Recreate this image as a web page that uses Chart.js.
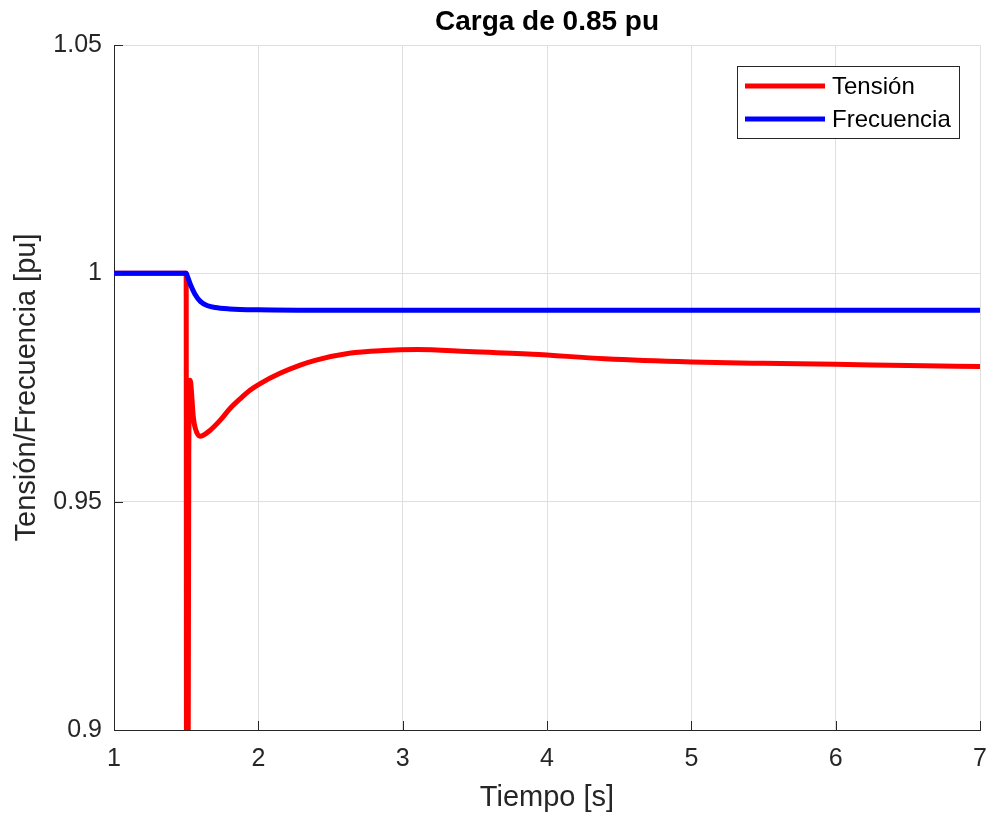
<!DOCTYPE html>
<html lang="es">
<head>
<meta charset="utf-8">
<title>Carga de 0.85 pu</title>
<script src="https://cdn.jsdelivr.net/npm/chart.js@4.4.1/dist/chart.umd.min.js"></script>
<style>
  html, body { margin: 0; padding: 0; background: #ffffff; }
  #contenedor { width: 989px; height: 816px; }
</style>
</head>
<body>
<div id="contenedor"><canvas id="grafico"></canvas></div>
<script>
// Tiempos y valores de la tensión (pu)
const tiempoTension = [1, 1.5, 1.503, 1.511, 1.518, 1.527, 1.55, 1.561, 1.596, 1.665, 1.735, 1.804, 1.873, 1.942,
  2.01, 2.15, 2.29, 2.4, 2.63, 2.87, 3.1, 3.45, 3.9, 4.4, 5.0, 5.5, 6.0, 6.5, 7.0];
const tension = [1, 1, 0.85, 0.85, 0.96, 0.9766, 0.9684, 0.9663, 0.9643, 0.9656, 0.9678, 0.9704, 0.9725, 0.9744,
  0.9758, 0.9781, 0.9799, 0.981, 0.9825, 0.9831, 0.9833, 0.9829, 0.9823, 0.9813, 0.9806, 0.9803, 0.9801, 0.9798, 0.9796];

// Tiempos y valores de la frecuencia (pu)
const tiempoFrecuencia = [1, 1.5, 1.51, 1.53, 1.56, 1.6, 1.65, 1.7, 1.8, 2.0, 2.5, 7.0];
const frecuencia = [1, 1, 0.9992, 0.9975, 0.9955, 0.9938, 0.9929, 0.9925, 0.9922, 0.9920, 0.9919, 0.9919];

// Marcas de los ejes
const ticksX = [1, 2, 3, 4, 5, 6, 7];
const ticksY = [0.9, 0.95, 1, 1.05];

const titulo = 'Carga de 0.85 pu';
const FUENTE = '"Liberation Sans", Arial, Helvetica, sans-serif';
const COLOR_EJE = '#262626';

const puntos = (xs, ys) => xs.map((x, i) => ({ x: x, y: ys[i] }));

// Título, marcas hacia adentro y leyenda con recuadro (estilo MATLAB)
const decoraciones = {
  id: 'decoraciones',
  afterDraw(chart) {
    const { ctx, chartArea, scales } = chart;
    ctx.save();

    // marcas de los ejes hacia adentro
    ctx.strokeStyle = COLOR_EJE;
    ctx.lineWidth = 1;
    ctx.beginPath();
    ticksX.forEach(v => {
      const px = Math.round(scales.x.getPixelForValue(v)) + 0.5;
      ctx.moveTo(px, chartArea.bottom);
      ctx.lineTo(px, chartArea.bottom - 9);
    });
    ticksY.forEach(v => {
      const py = Math.round(scales.y.getPixelForValue(v)) + 0.5;
      ctx.moveTo(chartArea.left, py);
      ctx.lineTo(chartArea.left + 9, py);
    });
    ctx.stroke();

    // título centrado sobre el área de trazado
    ctx.fillStyle = '#000000';
    ctx.font = 'bold 28px ' + FUENTE;
    ctx.textAlign = 'center';
    ctx.textBaseline = 'middle';
    ctx.fillText(titulo, (chartArea.left + chartArea.right) / 2, 22);

    // leyenda
    const lx = 737.5, ly = 66.5, lw = 222, lh = 72;
    ctx.fillStyle = '#ffffff';
    ctx.fillRect(lx, ly, lw, lh);
    ctx.strokeStyle = COLOR_EJE;
    ctx.lineWidth = 1;
    ctx.strokeRect(lx, ly, lw, lh);
    ctx.font = '24px ' + FUENTE;
    ctx.textAlign = 'left';
    chart.data.datasets.forEach((ds, i) => {
      const y = 86 + i * 33;
      ctx.strokeStyle = ds.borderColor;
      ctx.lineWidth = 5;
      ctx.beginPath();
      ctx.moveTo(745, y);
      ctx.lineTo(825, y);
      ctx.stroke();
      ctx.fillStyle = '#000000';
      ctx.fillText(ds.label, 832, y + 1);
    });
    ctx.restore();
  }
};

new Chart(document.getElementById('grafico'), {
  type: 'line',
  data: {
    datasets: [
      {
        label: 'Tensión',
        data: puntos(tiempoTension, tension),
        borderColor: '#ff0000',
        borderWidth: 5,
        pointRadius: 0,
        cubicInterpolationMode: 'monotone',
        clip: { left: 5, top: 5, right: 5, bottom: 0 },
        order: 1
      },
      {
        label: 'Frecuencia',
        data: puntos(tiempoFrecuencia, frecuencia),
        borderColor: '#0000ff',
        borderWidth: 5,
        pointRadius: 0,
        cubicInterpolationMode: 'monotone',
        order: 0
      }
    ]
  },
  options: {
    responsive: true,
    maintainAspectRatio: false,
    animation: false,
    layout: { padding: { top: 45, right: 9, left: 0, bottom: 0 } },
    plugins: {
      legend: { display: false },
      title: { display: false },
      tooltip: { enabled: false }
    },
    scales: {
      x: {
        type: 'linear',
        min: 1,
        max: 7,
        afterBuildTicks: s => { s.ticks = ticksX.map(v => ({ value: v })); },
        afterFit: s => { s.height = 86; s.paddingLeft = 0; s.paddingRight = 0; },
        grid: { color: '#dfdfdf', lineWidth: 1, drawTicks: false },
        border: { display: true, color: COLOR_EJE, width: 1 },
        ticks: { color: COLOR_EJE, padding: 14, font: { family: FUENTE, size: 25 }, maxRotation: 0 },
        title: {
          display: true,
          text: 'Tiempo [s]',
          color: COLOR_EJE,
          font: { family: FUENTE, size: 29 },
          padding: { top: 0, bottom: 1 }
        }
      },
      y: {
        type: 'linear',
        min: 0.9,
        max: 1.05,
        afterBuildTicks: s => { s.ticks = ticksY.map(v => ({ value: v })); },
        afterFit: s => { s.width = 114; s.paddingTop = 0; s.paddingBottom = 0; },
        grid: { color: '#dfdfdf', lineWidth: 1, drawTicks: false },
        border: { display: true, color: COLOR_EJE, width: 1 },
        ticks: {
          color: COLOR_EJE,
          padding: 12,
          font: { family: FUENTE, size: 25 },
          callback: v => String(Number(v.toFixed(2)))
        },
        title: {
          display: true,
          text: 'Tensión/Frecuencia [pu]',
          color: COLOR_EJE,
          font: { family: FUENTE, size: 29 },
          padding: { top: 10, bottom: 0 }
        }
      }
    }
  },
  plugins: [decoraciones]
});
</script>
</body>
</html>
